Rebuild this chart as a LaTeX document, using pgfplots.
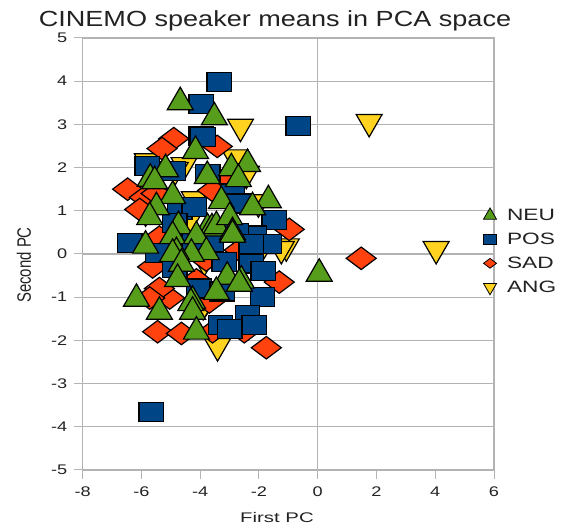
\documentclass[border=0pt]{standalone}
\usepackage{pgfplots}
\pgfplotsset{compat=1.18}
\usepackage{fontspec}
\setmainfont{Liberation Sans}
\definecolor{neu}{HTML}{579D1C}
\definecolor{pos}{HTML}{004586}
\definecolor{sad}{HTML}{FF420E}
\definecolor{ang}{HTML}{FFD320}
\definecolor{gridc}{HTML}{B3B3B3}
\definecolor{txt}{HTML}{222222}
\newcommand{\legtxt}[1]{\hspace{8.5bp}\scalebox{1.38}[1]{#1}}
\pgfplotstableread{
x y
-2.63 2.86
1.75 2.97
4.03 0.03
-4.55 1.97
-2.82 2.15
-1.07 0.09
-1.24 0.03
-3.86 -0.25
-3.41 -2.22
-4.20 1.18
-5.86 0.90
-2.02 1.11
-3.79 -1.16
-3.90 -1.27
-4.37 0.71
-1.82 0.16
-5.80 2.06
-2.43 1.77
-4.85 1.86
}\angtable
\pgfplotstableread{
x y
-4.90 2.67
-5.30 2.44
-3.42 2.49
-6.47 1.50
-5.90 1.31
-5.50 1.40
-6.06 1.03
-3.58 1.47
-0.97 0.57
-5.39 0.39
-5.62 -0.30
-1.31 -0.65
-5.04 -1.02
-5.39 -0.80
-5.72 -1.02
-3.69 -1.11
-5.45 -1.80
-4.64 -1.84
-3.58 -1.80
-2.50 -1.80
-1.75 -2.17
1.48 -0.10
-3.10 1.77
-4.13 -0.60
-3.80 -0.14
-2.67 0.09
}\sadtable
\pgfplotstableread{
x y
-3.35 3.99
-3.96 3.48
-0.66 2.97
-3.96 2.74
-3.90 2.71
-5.80 2.03
-4.93 1.93
-3.75 1.86
-2.90 1.40
-2.70 1.17
-4.70 1.01
-4.20 1.08
-1.48 0.78
-4.87 0.71
-2.16 0.43
-2.77 0.48
-1.65 0.23
-2.26 0.23
-6.40 0.25
-5.45 0.02
-3.62 0.27
-4.20 0.32
-3.18 -0.18
-2.26 -0.22
-1.85 -0.40
-4.87 -0.33
-4.05 -0.80
-3.25 -0.87
-1.88 -0.99
-2.39 -1.42
-2.16 -1.64
-3.31 -1.64
-3.00 -1.74
-5.66 -3.65
}\postable
\pgfplotstableread{
x y
-4.68 3.60
-3.52 3.25
-4.16 2.47
-2.39 2.17
-2.94 2.07
-5.18 2.05
-5.70 1.83
-5.55 1.77
-3.76 1.89
-2.70 1.82
-4.94 1.43
-3.28 1.31
-1.68 1.33
-2.22 1.17
-5.49 1.17
-5.72 0.94
-4.74 0.73
-3.75 0.68
-3.60 0.68
-3.45 0.73
-3.00 0.94
-2.90 0.59
-2.90 0.53
-4.94 0.50
-4.13 0.50
-5.86 0.28
-3.79 0.13
-4.30 0.09
-4.81 0.13
-4.94 0.09
-4.64 -0.14
-4.77 -0.49
-3.08 -0.44
-2.60 -0.53
-2.67 -0.60
-3.45 -0.79
-6.17 -0.95
-4.26 -1.00
-4.32 -1.05
-5.39 -1.25
-4.26 -1.25
-4.13 -1.71
0.05 -0.37
}\neutable
\begin{document}
\begin{tikzpicture}[x=1bp,y=1bp]
\useasboundingbox (0,0) rectangle (564,524);
\begin{axis}[
  at={(82.7bp,54bp)}, anchor=south west,
  scale only axis,
  width=411.3bp, height=432bp,
  xmin=-8, xmax=6, ymin=-5, ymax=5,
  xtick={-8,-6,...,6}, ytick={-5,-4,...,5},
  extra x ticks={0},
  extra x tick labels={},
  extra x tick style={grid=major, major grid style={gridc, line width=1.3bp}},
  ymajorgrids,
  grid style={gridc, line width=1.3bp},
  axis line style={gridc, line width=1.3bp},
  tick style={gridc, line width=1bp},
  tick pos=left, tick align=outside,
  major tick length=9bp,
  tick label style={font=\fontsize{14}{16}\selectfont, text=txt, xscale=1.3},
  /pgf/number format/assume math mode=true,
  xticklabel style={yshift=-4bp},
  yticklabel style={xshift=-1.5bp},
  title={CINEMO speaker means in PCA space},
  title style={font=\fontsize{22}{24}\selectfont, text=txt, xscale=1.235, anchor=center,
    at={(axis description cs:0.4675,1.026)}},
  xlabel={First PC}, ylabel={Second PC},
  xlabel style={font=\fontsize{14}{16}\selectfont, text=txt, xscale=1.46, anchor=center,
    at={(axis description cs:0.4724,-0.109)}},
  ylabel style={font=\fontsize{15}{16}\selectfont, text=txt, yscale=1.3, anchor=center,
    at={(axis description cs:-0.1427,0.4745)}},
  clip=false,
  legend style={draw=none, fill=none, anchor=west, at={(0.974,0.506)},
    font=\fontsize{16.5}{18}\selectfont, text=txt, row sep=7bp, legend cell align=left,
    inner sep=0pt},
  every axis plot/.append style={only marks},
  legend image post style={only marks},
]
\addlegendimage{only marks, mark=triangle*, mark size=7.5bp, mark options={fill=neu, draw=black, line width=0.8bp}}
\addlegendimage{only marks, mark=square*, mark size=5bp, mark options={xscale=1.3, fill=pos, draw=black, line width=0.8bp}}
\addlegendimage{only marks, mark=diamond*, mark size=6.5bp, mark options={rotate=90, fill=sad, draw=black, line width=0.8bp}}
\addlegendimage{only marks, mark=triangle*, mark size=7.5bp, mark options={rotate=180, fill=ang, draw=black, line width=0.8bp}}
\addlegendentry{\legtxt{NEU}}
\addlegendentry{\legtxt{POS}}
\addlegendentry{\legtxt{SAD}}
\addlegendentry{\legtxt{ANG}}
\addplot[forget plot, mark=triangle*, mark size=15bp, mark options={yshift=3.75bp, rotate=180, fill=ang, draw=black, line width=1.2bp}] table {\angtable};
\addplot[forget plot, mark=diamond*, mark size=15bp, mark options={rotate=90, fill=sad, draw=black, line width=1.2bp}] table {\sadtable};
\addplot[forget plot, mark=square*, mark size=9.5bp, mark options={xscale=1.3, fill=pos, draw=black, line width=1.2bp}] table {\postable};
\addplot[forget plot, mark=triangle*, mark size=15bp, mark options={yshift=-3.75bp, fill=neu, draw=black, line width=1.2bp}] table {\neutable};
\end{axis}
\end{tikzpicture}
\end{document}
